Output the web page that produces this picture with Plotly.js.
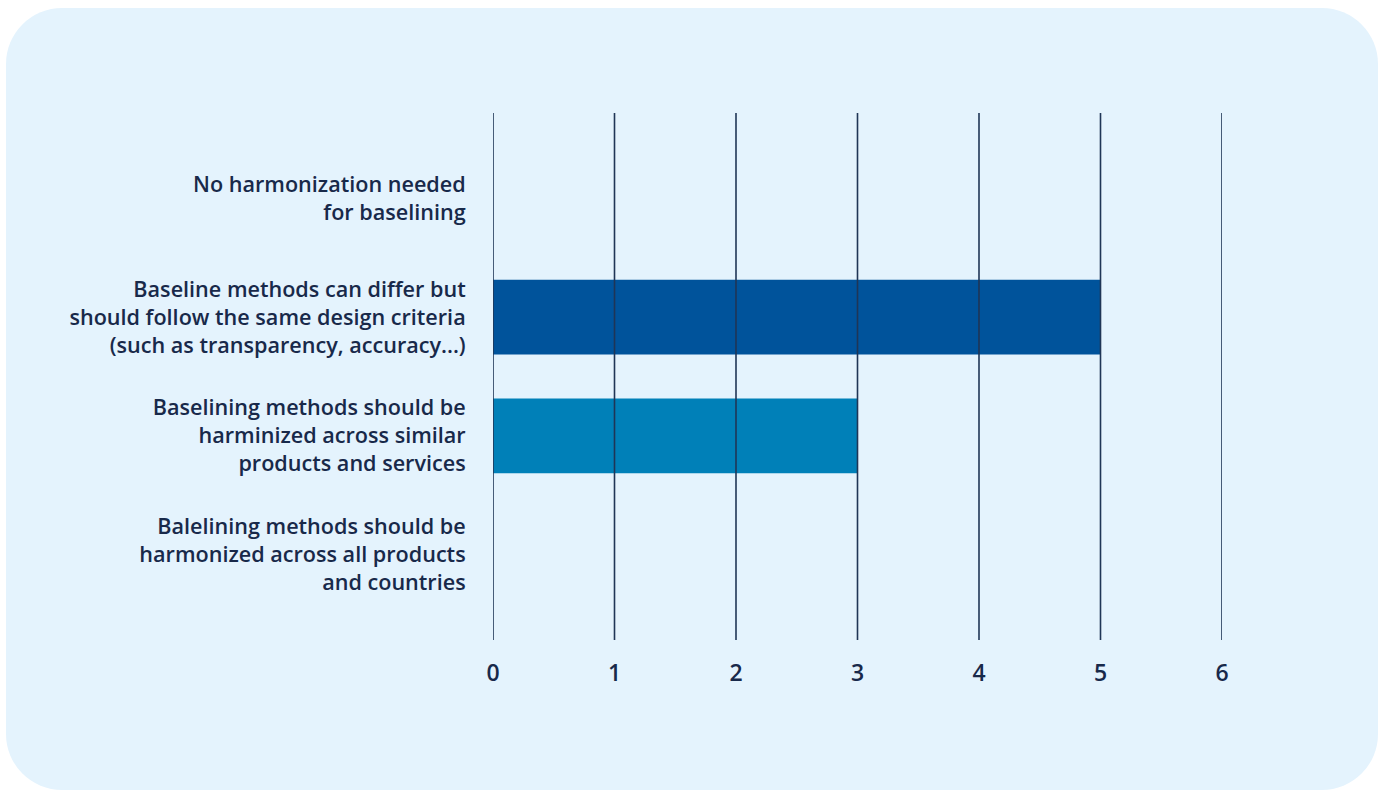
<!DOCTYPE html>
<html>
<head>
<meta charset="utf-8">
<script src="https://cdn.plot.ly/plotly-3.0.1.min.js"></script>
<style>
  html, body { margin: 0; padding: 0; background: #ffffff; width: 1378px; height: 790px; overflow: hidden; }
  #panel { position: absolute; left: 6px; top: 8px; width: 1372px; height: 782px; background: #E4F3FD; border-radius: 56px; }
  #chart { position: absolute; left: 0; top: 0; width: 1378px; height: 790px; }
</style>
</head>
<body>
<div id="panel"></div>
<div id="chart"></div>
<script>
const categories = [
  "No harmonization needed<br>for baselining",
  "Baseline methods can differ but<br>should follow the same design criteria<br>(such as transparency, accuracy...)",
  "Baselining methods should be<br>harminized across similar<br>products and services",
  "Balelining methods should be<br>harmonized across all products<br>and countries"
];
const values = [0, 5, 3, 0];
const barColors = ["#00539B", "#00539B", "#0080B8", "#0080B8"];
const xTicks = [0, 1, 2, 3, 4, 5, 6];

const gridColor = "#1F3556";
const textColor = "#18294A";
const fontFam = "'Open Sans', Lato, sans-serif";

const shapes = xTicks.map(v => ({
  type: "line", xref: "x", yref: "paper",
  x0: v, x1: v, y0: 0, y1: 1,
  line: { color: gridColor, width: 1.6 },
  layer: "above"
}));

const data = [{
  type: "bar",
  orientation: "h",
  y: categories,
  x: values,
  marker: { color: barColors, line: { width: 0 } },
  width: 0.63,
  hoverinfo: "skip"
}];

const layout = {
  width: 1378, height: 790,
  paper_bgcolor: "rgba(0,0,0,0)",
  plot_bgcolor: "rgba(0,0,0,0)",
  margin: { l: 493, r: 156, t: 113, b: 150, pad: 0 },
  showlegend: false,
  font: { family: fontFam, color: textColor },
  xaxis: {
    range: [0, 6],
    tickvals: xTicks,
    ticktext: xTicks.map(String),
    showgrid: false, zeroline: false, showline: false,
    ticks: "outside", ticklen: 12, tickcolor: "rgba(0,0,0,0)",
    tickfont: { size: 23, color: textColor, family: fontFam, weight: 600 },
    fixedrange: true
  },
  yaxis: {
    type: "category",
    categoryorder: "array",
    categoryarray: categories,
    range: [3.72, -0.72],
    showgrid: false, zeroline: false, showline: false,
    ticks: "outside", ticklen: 22, tickcolor: "rgba(0,0,0,0)",
    tickfont: { size: 21.6, color: textColor, family: fontFam, weight: 600 },
    automargin: false,
    fixedrange: true
  },
  shapes: shapes
};

Plotly.newPlot("chart", data, layout, { displayModeBar: false, staticPlot: true });
</script>
</body>
</html>
